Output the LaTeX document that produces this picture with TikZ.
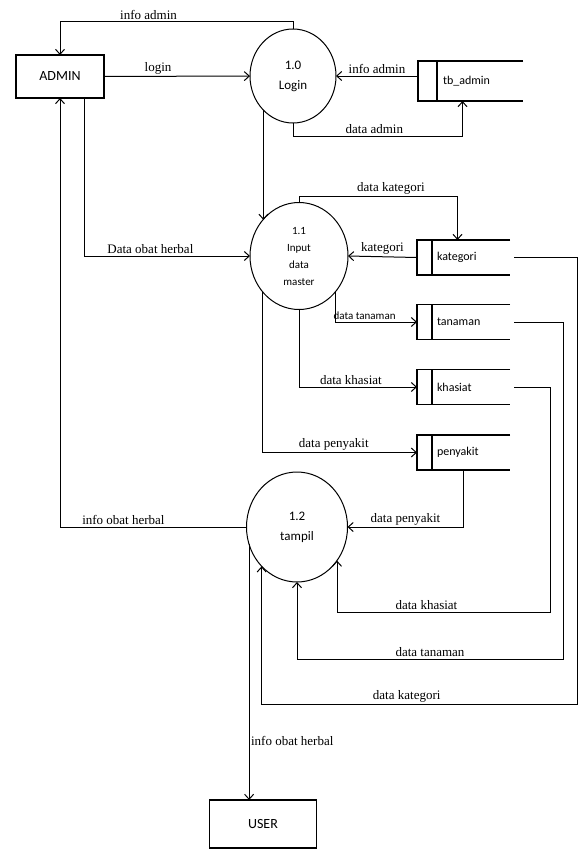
\documentclass[tikz,border=0pt]{standalone}
\usepackage{fontspec}
\setmainfont{Liberation Serif}
\setsansfont{Carlito}
\usetikzlibrary{shapes.geometric,arrows.meta}

\begin{document}
\begin{tikzpicture}[x=1pt,y=-1pt,
		every node/.style={outer sep=0pt},
		entity/.style={draw,line width=1.2pt,rectangle,inner sep=0pt,font=\sffamily\fontsize{14}{16}\selectfont},
		proc/.style={draw,line width=1pt,ellipse,inner sep=0pt,align=center,font=\sffamily\fontsize{13}{20}\selectfont},
		store/.style={rectangle,minimum height=35pt,inner ysep=0pt,inner xsep=20pt,text width=53pt,align=left,font=\sffamily\fontsize{12}{14}\selectfont},
		side/.style={line width=1.2pt},
		flow/.style={line width=1pt,-{Straight Barb[length=5pt,width=9pt]}},
		lbl/.style={font=\fontsize{13}{15}\selectfont,inner sep=2pt}]
		\useasboundingbox (0,0) rectangle (579,851);
		% external entities
		\node[entity,minimum width=88pt,minimum height=43pt] (admin) at (60,76.5) {ADMIN};
		\node[entity,minimum width=107pt,minimum height=48pt] (user) at (263,824) {USER};
		% processes
		\node[proc,minimum width=86pt,minimum height=94pt] (c10) at (293,76) {1.0\\Login};
		\node[proc,minimum width=98pt,minimum height=107pt,font=\sffamily\fontsize{11}{17}\selectfont] (c11) at (299,256) {1.1\\Input\\data\\master};
		\node[proc,minimum width=101pt,minimum height=110pt] (c12) at (297,527) {1.2\\tampil};
		% data stores
		\node[store,minimum height=40pt,inner xsep=25pt,text width=55pt] (tbadmin) at (470.5,81) {tb\_admin};
		\node[store] (kat) at (463.5,257.5) {kategori};
		\node[store] (tan) at (463.5,322) {tanaman};
		\node[store] (kha) at (463.5,387) {khasiat};
		\node[store] (pen) at (463.5,452.5) {penyakit};
		\foreach \st/\dv in {tbadmin/19,kat/15,tan/15,kha/15,pen/15}{
			\draw[side] (\st.north east) -- (\st.north west) -- (\st.south west) -- (\st.south east);
			\draw[side] ([xshift=\dv pt]\st.north west) -- ([xshift=\dv pt]\st.south west);
		}
		% login flows
		\draw[flow] (c10.north) -- (c10.north |- 0,22) -| node[lbl,above,pos=0.31] {info admin} (admin.north);
		\draw[flow] (admin) -- node[lbl,above,pos=0.37] {login} (c10);
		\draw[flow] (c10.east -| tbadmin.west) -- node[lbl,above] {info admin} (c10.east);
		\draw[flow] (c10.south) -- ++(0,13) -| node[lbl,above,pos=0.24] {data admin} ([xshift=-8pt]tbadmin.south);
		\draw[flow] (c10.229) -- (c10.229 |- c11.135);
		% input data master
		\draw[flow] ([xshift=24pt]admin.south) |- node[lbl,above,pos=0.7] {Data obat herbal} (c11.west);
		\draw[flow] (c11.north) -- ++(0,-6) -| node[lbl,above,pos=0.29] {data kategori} ([xshift=-6pt]kat.north);
		\draw[flow] (kat.west) -- node[lbl,above] {kategori} (c11.east);
		\draw[flow] (c11.315) |- node[lbl,above,pos=0.68,font=\sffamily\fontsize{11}{13}\selectfont] {data tanaman} (tan.west);
		\draw[flow] (c11.south) |- node[lbl,above,pos=0.72] {data khasiat} (kha.west);
		\draw[flow] (c11.225) |- node[lbl,above,pos=0.73] {data penyakit} (pen.west);
		% tampil
		\draw[flow] (pen.south) |- node[lbl,above,pos=0.75] {data penyakit} (c12.east);
		\draw[flow] ([xshift=4pt]kha.east) -| (550,612) -| node[lbl,above,pos=0.29] {data khasiat} (c12.320);
		\draw[flow] ([xshift=4pt]tan.east) -| (563,659) -| node[lbl,above,pos=0.25] {data tanaman} (c12.south);
		\draw[flow] ([xshift=4pt]kat.east) -| (577,704) -| node[lbl,above,pos=0.27] {data kategori} (c12.228);
		\draw[flow] (c12.west) -| node[lbl,above,pos=0.33] {info obat herbal} (admin.south);
		\draw[flow] (c12.200) -- node[lbl,right,pos=0.77] {info obat herbal} (c12.200 |- user.north);
\end{tikzpicture}
\end{document}
